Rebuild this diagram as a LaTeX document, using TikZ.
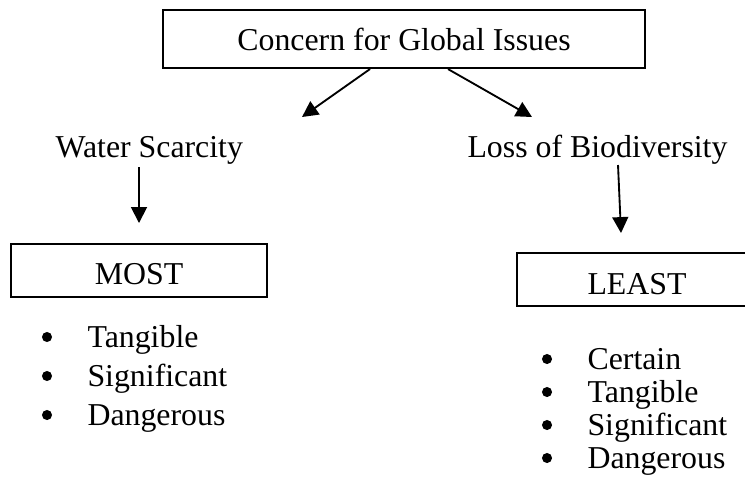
\documentclass[tikz,border=0pt]{standalone}
\usepackage{fontspec}
\setmainfont{Liberation Serif}
\usetikzlibrary{calc, arrows.meta}

\begin{document}
\begin{tikzpicture}[x=0.377pt, y=-0.377pt,
  font=\fontsize{12}{14}\selectfont,
  box/.style={draw, line width=0.75pt, inner sep=0pt, text depth=0pt},
  lbl/.style={anchor=base west, inner sep=0pt},
  arr/.style={-{Triangle[length=6pt, width=6pt]}, line width=0.7pt}]

% 页面范围
\useasboundingbox (0,0) rectangle (745,495);

% 顶部方框
\node[box, minimum width=181.7pt, minimum height=21.9pt, text height=8.3pt]
  (concern) at (404,39) {Concern for Global Issues};

% 两个议题
\node[lbl] (water) at (55,157) {Water Scarcity};
\node[lbl] (bio) at (467,157) {Loss of Biodiversity};

% 箭头的终点
\coordinate (tw) at (302,117);
\coordinate (tb) at (532,117);
\draw[arr] ($(concern.south)+(-34,0)$) -- (tw);
\draw[arr] ($(concern.south)+(44,0)$) -- (tb);

% MOST / LEAST 方框（LEAST 右边在页面外，只画三条边）
\node[box, minimum width=96.5pt, minimum height=20pt, text height=10.2pt]
  (most) at (139,270.5) {MOST};
\node[box, draw=none, minimum width=89.7pt, minimum height=19.2pt, text height=11pt]
  (least) at (637,279.5) {LEAST};
\draw[line width=0.75pt] (least.north east) -- (least.north west)
  -- (least.south west) -- (least.south east);

% 向下的箭头
\coordinate (mw) at (139,223);
\coordinate (ml) at (621,233);
\draw[arr] (139,167) -- (mw);
\draw[arr] (618,165) -- (ml);

% 左侧列表
\foreach \word [count=\i] in {Tangible, Significant, Dangerous} {
  \node[lbl] (m\i) at (87, {347+39*(\i-1)}) {\word};
  \fill (47, {337+39*(\i-1)}) circle [radius=1.9pt];
}

% 右侧列表
\foreach \word [count=\i] in {Certain, Tangible, Significant, Dangerous} {
  \node[lbl] (l\i) at (587, {369+33*(\i-1)}) {\word};
  \fill (547, {359+33*(\i-1)}) circle [radius=1.9pt];
}

\end{tikzpicture}
\end{document}
